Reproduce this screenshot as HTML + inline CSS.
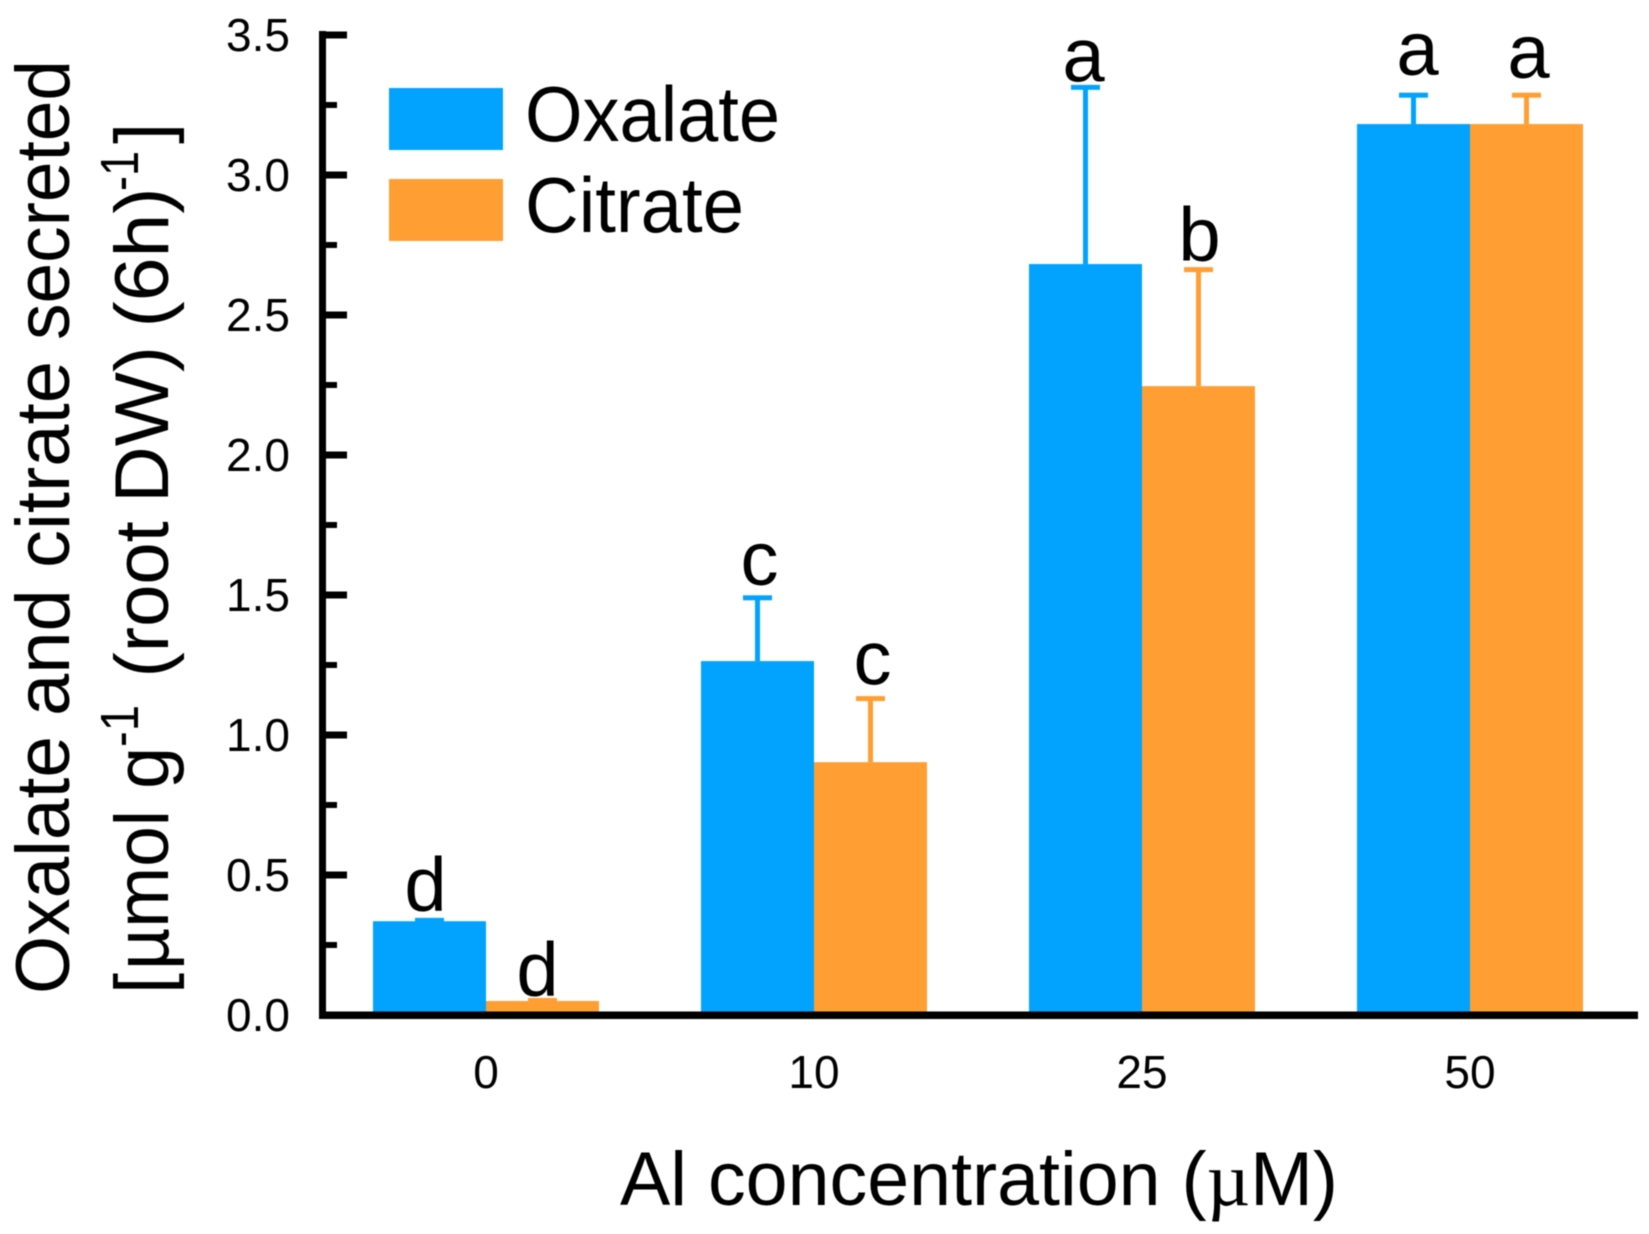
<!DOCTYPE html>
<html lang="en">
<head>
<meta charset="utf-8">
<title>Oxalate and citrate secretion vs Al concentration</title>
<style>
  html, body { margin: 0; padding: 0; background: #fff; }
  body { width: 1649px; height: 1234px; overflow: hidden; }
  svg { display: block; filter: blur(0.5px); }
  text { font-family: "Liberation Sans", Arial, sans-serif; fill: #000; }
  .greek { font-family: "Liberation Serif", serif; }
</style>
</head>
<body>
<svg id="chart" xmlns="http://www.w3.org/2000/svg" width="1649" height="1234" viewBox="0 0 1649 1234">
  <rect x="0" y="0" width="1649" height="1234" fill="#ffffff"/>
  <g id="bars"></g>
  <g id="axes"></g>

  <g>
    <rect x="389" y="88" width="114" height="62" fill="#02A3FF"/>
    <text x="525" y="141" font-size="78" textLength="255" lengthAdjust="spacingAndGlyphs">Oxalate</text>
    <rect x="389" y="179" width="114" height="62" fill="#FF9F33"/>
    <text x="525" y="232" font-size="78" textLength="219" lengthAdjust="spacingAndGlyphs">Citrate</text>
  </g>

  <text x="620" y="1205" font-size="76" textLength="718" lengthAdjust="spacingAndGlyphs">Al concentration (<tspan class="greek">µ</tspan>M)</text>

  <text transform="translate(69 990) rotate(-90)" font-size="76"><tspan x="-4" textLength="258" lengthAdjust="spacingAndGlyphs">Oxalate</tspan> <tspan x="274">and</tspan> <tspan x="422">citrate</tspan> <tspan x="650" textLength="280" lengthAdjust="spacingAndGlyphs">secreted</tspan></text>

  <text transform="translate(168 990) rotate(-90)" font-size="76"><tspan x="-4">[</tspan><tspan x="20" textLength="160" lengthAdjust="spacingAndGlyphs">µmol</tspan> <tspan x="201">g</tspan><tspan x="243" y="-30" font-size="54" textLength="42" lengthAdjust="spacingAndGlyphs">-1</tspan> <tspan x="312.5" y="0">(root</tspan> <tspan x="487" y="0" textLength="157" lengthAdjust="spacingAndGlyphs">DW)</tspan> <tspan x="662.5" y="0" textLength="140" lengthAdjust="spacingAndGlyphs">(6h)</tspan><tspan x="799" y="-30" font-size="54" textLength="40" lengthAdjust="spacingAndGlyphs">-1</tspan><tspan x="846" y="0">]</tspan></text>
</svg>

<script>
const categories = ['0', '10', '25', '50'];
const oxalateValues = [0.335, 1.264, 2.682, 3.182];
const citrateValues = [0.05, 0.903, 2.246, 3.182];
const oxalateErrorTops = [0.338, 1.49, 3.313, 3.285];
const citrateErrorTops = [0.052, 1.13, 2.662, 3.285];
const oxalateLetters = ['d', 'c', 'a', 'a'];
const citrateLetters = ['d', 'c', 'b', 'a'];
const yTickLabels = ['0.0', '0.5', '1.0', '1.5', '2.0', '2.5', '3.0', '3.5'];
const yMinorTicks = [0.25, 0.75, 1.25, 1.75, 2.25, 2.75, 3.25];

const NS = 'http://www.w3.org/2000/svg';
const barsLayer = document.getElementById('bars');
const axesLayer = document.getElementById('axes');

function yScale(v) { return 1015 - v * 280; }
function groupCenter(i) { return 486 + i * 328; }

function make(tag, parent, props) {
  const el = document.createElementNS(NS, tag);
  for (const k in props) el.setAttribute(k, props[k]);
  parent.appendChild(el);
  return el;
}

function drawSeries(seriesName, values, errors, letters, colour, side, letterLift, letterShift) {
  const barWidth = 113;
  values.forEach(function (v, i) {
    const left = side < 0 ? groupCenter(i) - barWidth : groupCenter(i);
    const centre = left + barWidth / 2;
    const top = yScale(v);

    const whisker = make('rect', barsLayer, { x: centre - 2.5, y: yScale(errors[i]), width: 5, height: Math.max(0, top - yScale(errors[i])), fill: colour });
    
    

    const cap = make('rect', barsLayer, { x: centre - 14.5, y: yScale(errors[i]) - 2.5, width: 29, height: 5, fill: colour });
    
    

    const bar = make('rect', barsLayer, { x: left, y: top, width: barWidth, height: yScale(0) - top, fill: colour });
    
    

    const letter = make('text', barsLayer, { x: centre + letterShift[i], y: yScale(errors[i]) - letterLift[i], 'font-size': 76, 'text-anchor': 'middle' });
    letter.textContent = letters[i];
    
    
  });
}

drawSeries('oxalate', oxalateValues, oxalateErrorTops, oxalateLetters, '#02A3FF', -1, [10, 13, 6, 20], [-4, 2, -2, 4]);
drawSeries('citrate', citrateValues, citrateErrorTops, citrateLetters, '#FF9F33', 1, [5, 14, 9, 17], [-5, 2, 1, 2]);

const yAxisLine = make('rect', axesLayer, { x: 319, y: 31, width: 7, height: 988, fill: '#000' });



const xAxisLine = make('rect', axesLayer, { x: 319, y: 1011.5, width: 1319, height: 7.5, fill: '#000' });



yTickLabels.forEach(function (label) {
  const v = parseFloat(label);
  const y = yScale(v);
  if (v > 0) {
    const tick = make('rect', axesLayer, { x: 326, y: y - 3.5, width: 21, height: 7, fill: '#000' });
    
    
  }
  const text = make('text', axesLayer, { x: 290, y: y + 16, 'font-size': 46, 'text-anchor': 'end' });
  text.textContent = label;
  
  
});

yMinorTicks.forEach(function (v) {
  const tick = make('rect', axesLayer, { x: 326, y: yScale(v) - 3, width: 11, height: 6, fill: '#000' });
  
  
});

categories.forEach(function (label, i) {
  const text = make('text', axesLayer, { x: groupCenter(i), y: 1088, 'font-size': 46, 'text-anchor': 'middle' });
  text.textContent = label;
  
  
});
</script>
</body>
</html>
